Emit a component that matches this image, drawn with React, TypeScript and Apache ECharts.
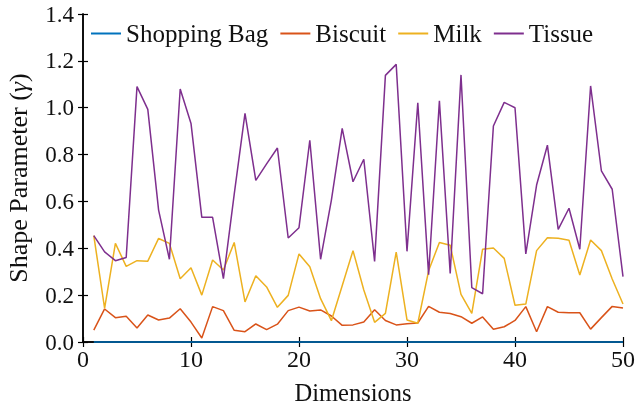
import React, { useEffect, useRef } from 'react';
import * as echarts from 'echarts';

const dimensions = Array.from({ length: 50 }, (_, i) => i + 1);

const seriesNames = ['Shopping Bag', 'Biscuit', 'Milk', 'Tissue'];
const seriesColors = ['#0072BD', '#D95319', '#EDB120', '#7E2F8E'];

const shoppingBag = [
  0, 0, 0, 0, 0, 0, 0, 0, 0, 0,
  0, 0, 0, 0, 0, 0, 0, 0, 0, 0,
  0, 0, 0, 0, 0, 0, 0, 0, 0, 0,
  0, 0, 0, 0, 0, 0, 0, 0, 0, 0,
  0, 0, 0, 0, 0, 0, 0, 0, 0, 0,
];

const biscuit = [
  0.051, 0.141, 0.104, 0.11, 0.06, 0.115, 0.094, 0.102, 0.142, 0.085,
  0.017, 0.151, 0.134, 0.05, 0.044, 0.077, 0.053, 0.076, 0.134, 0.149,
  0.132, 0.137, 0.111, 0.071, 0.073, 0.085, 0.138, 0.092, 0.073, 0.078,
  0.081, 0.152, 0.127, 0.122, 0.108, 0.08, 0.107, 0.054, 0.065, 0.092,
  0.151, 0.044, 0.151, 0.127, 0.125, 0.125, 0.055, 0.104, 0.152, 0.145,
];

const milk = [
  0.454, 0.144, 0.421, 0.323, 0.347, 0.345, 0.442, 0.421, 0.27, 0.317,
  0.2, 0.35, 0.307, 0.425, 0.171, 0.283, 0.235, 0.148, 0.199, 0.376,
  0.321, 0.185, 0.091, 0.24, 0.39, 0.222, 0.084, 0.122, 0.384, 0.094,
  0.08, 0.304, 0.425, 0.413, 0.203, 0.122, 0.396, 0.401, 0.357, 0.157,
  0.162, 0.39, 0.445, 0.443, 0.434, 0.286, 0.435, 0.39, 0.269, 0.162,
];

const tissue = [
  0.454, 0.385, 0.347, 0.361, 1.09, 0.993, 0.563, 0.353, 1.08, 0.933,
  0.532, 0.532, 0.27, 0.63, 0.976, 0.69, 0.76, 0.828, 0.444, 0.488,
  0.861, 0.353, 0.606, 0.912, 0.684, 0.78, 0.344, 1.138, 1.185, 0.387,
  1.021, 0.287, 1.03, 0.293, 1.14, 0.232, 0.206, 0.922, 1.023, 1.0,
  0.376, 0.67, 0.84, 0.481, 0.571, 0.396, 1.093, 0.73, 0.652, 0.279,
];

const seriesValues = [shoppingBag, biscuit, milk, tissue];

const FONT = 'Liberation Serif';
const TEXT = '#111';

export default function App() {
  const ref = useRef<HTMLDivElement>(null);

  useEffect(() => {
    if (!ref.current) return;
    const chart = echarts.init(ref.current, null, { renderer: 'svg' });

    const axisLine = { show: true, lineStyle: { color: '#000', width: 1.5 } };
    const axisTick = { show: true, inside: true, length: 5, lineStyle: { color: '#000', width: 1.2 } };

    chart.setOption({
      animation: false,
      textStyle: { fontFamily: FONT },
      grid: { left: 83, right: 12, top: 14, bottom: 62, outerBoundsMode: 'none' },
      legend: {
        left: 86,
        top: 16,
        itemWidth: 30,
        itemHeight: 2,
        itemGap: 12,
        textStyle: { fontFamily: FONT, fontSize: 25, color: TEXT },
        data: seriesNames.map((n) => ({ name: n, icon: 'rect' })),
      },
      xAxis: [
        {
          type: 'value',
          position: 'bottom',
          min: 0,
          max: 50,
          interval: 10,
          axisLine,
          axisTick,
          splitLine: { show: false },
          axisLabel: { margin: 5, fontFamily: FONT, fontSize: 24, color: TEXT },
          name: 'Dimensions',
          nameLocation: 'middle',
          nameGap: 38,
          nameTextStyle: { fontFamily: FONT, fontSize: 24.5, color: TEXT },
        },
        {
          type: 'value',
          position: 'top',
          min: 0,
          max: 50,
          interval: 10,
          axisLine,
          axisTick,
          splitLine: { show: false },
          axisLabel: { show: false },
        },
      ],
      yAxis: [
        {
          type: 'value',
          position: 'left',
          min: 0,
          max: 1.4,
          interval: 0.2,
          axisLine,
          axisTick,
          splitLine: { show: false },
          axisLabel: {
            margin: 9,
            fontFamily: FONT,
            fontSize: 23,
            color: TEXT,
            formatter: (v: number) => v.toFixed(1),
          },
          name: 'Shape Parameter ({g|γ})',
          nameLocation: 'middle',
          nameGap: 52,
          nameRotate: 90,
          nameTextStyle: {
            fontFamily: FONT,
            fontSize: 26,
            color: TEXT,
            rich: { g: { fontFamily: FONT, fontSize: 26, fontStyle: 'italic', color: TEXT } },
          },
        },
        {
          type: 'value',
          position: 'right',
          min: 0,
          max: 1.4,
          interval: 0.2,
          axisLine,
          axisTick,
          splitLine: { show: false },
          axisLabel: { show: false },
        },
      ],
      series: seriesNames.map((name, k) => ({
        name,
        type: 'line',
        xAxisIndex: 0,
        yAxisIndex: 0,
        data: dimensions.map((d, i) => [d, seriesValues[k][i]]),
        symbol: 'none',
        showSymbol: false,
        clip: false,
        color: seriesColors[k],
        lineStyle: { color: seriesColors[k], width: 1.5 },
        z: 3 + k,
      })),
    });

    return () => chart.dispose();
  }, []);

  return (
    <>
      <style>{`#chart-root text, #chart-root tspan { font-family: 'Liberation Serif', serif !important; }`}</style>
      <div
        id="chart-root"
        ref={ref}
        style={{ position: 'fixed', left: 0, top: 0, width: 635, height: 404, fontFamily: FONT }}
      />
    </>
  );
}
